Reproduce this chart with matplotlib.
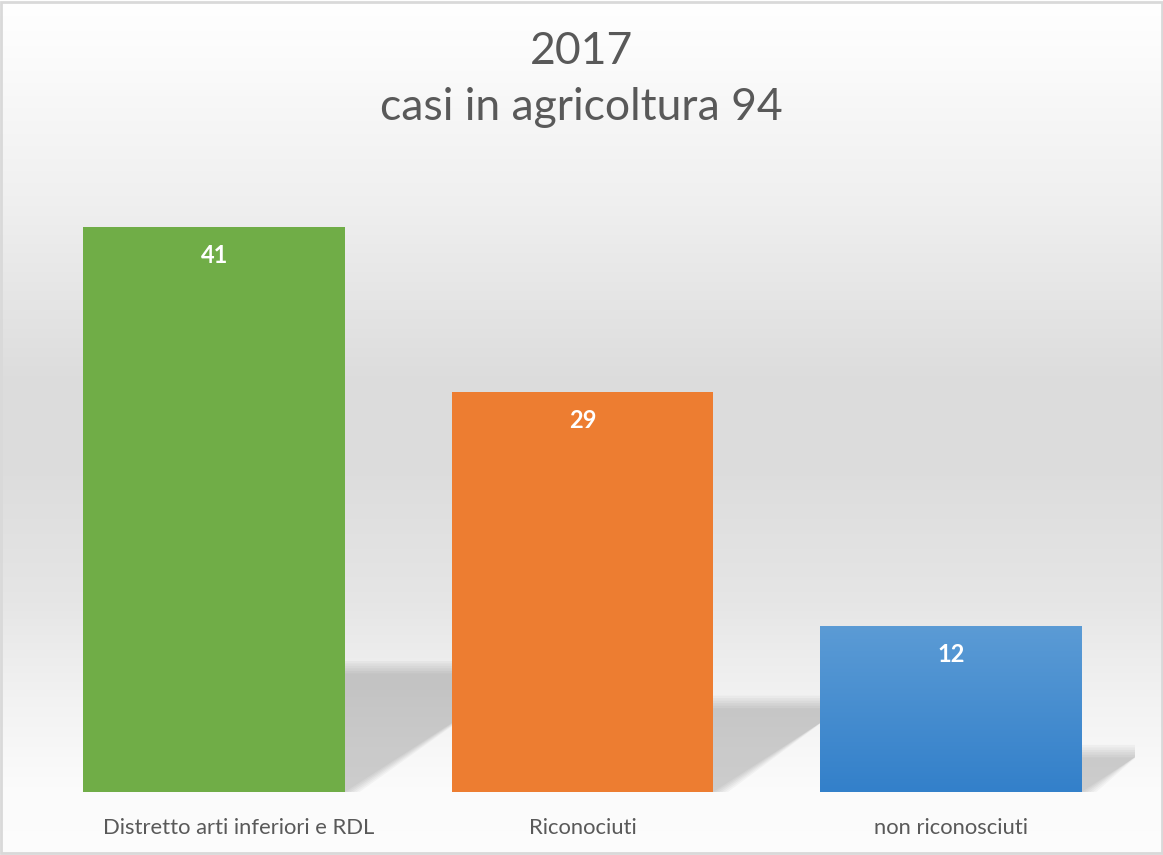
import matplotlib.pyplot as plt
import matplotlib.transforms as mtransforms
import numpy as np
from matplotlib.patches import Polygon, Rectangle

categorie = ['Distretto arti inferiori e RDL', 'Riconociuti', 'non riconosciuti']
casi = [41, 29, 12]
titolo = ['2017', 'casi in agricoltura 94']

plt.rcParams['font.family'] = ['Lato', 'DejaVu Sans']

fig = plt.figure(figsize=(11.63, 8.55), dpi=100)

# sfondo con sfumatura grigia (riga 0 = alto)
bg = fig.add_axes([0, 0, 1, 1], zorder=0)
yy = np.linspace(0, 855, 400)
livello = np.interp(yy, [0, 40, 200, 380, 470, 600, 700, 790, 855],
                    [1.0, 0.99, 0.94, 0.865, 0.865, 0.90, 0.95, 0.985, 0.99])
img = np.repeat(livello[:, None, None], 2, axis=1).repeat(3, axis=2)
bg.imshow(img, aspect='auto', extent=[0, 1, 0, 1], origin='upper')
bg.add_patch(Rectangle((0.001, 0.002), 0.998, 0.996, fill=False, ec='#d9d9d9', lw=2))
bg.set_xlim(0, 1)
bg.set_ylim(0, 1)
bg.axis('off')

ax = fig.add_axes([30 / 1163, 63 / 855, 1105 / 1163, 620 / 855], zorder=1)
ax.patch.set_alpha(0)
x = np.arange(len(casi))
larghezza = 0.71

# ombre prospettiche
for xi, v in zip(x, casi):
    h = 0.21 * v
    s = 0.058 * h
    xl, xr = xi - larghezza / 2, xi + larghezza / 2
    for k in range(6):
        d = k * 0.18
        poly = Polygon([(xl, 0), (xr + 0.008 * k, 0), (xr + s + 0.008 * k, h + d), (xl + s, h + d)],
                       closed=True, fc='black', ec='none', alpha=0.03, zorder=1)
        ax.add_patch(poly)

colori = ['#70AD47', '#ED7D31', None]
for xi, v, c in zip(x, casi, colori):
    if c is not None:
        ax.bar(xi, v, width=larghezza, color=c, zorder=3)
    else:
        grad = np.linspace(0, 1, 100)[:, None]
        top = np.array([0x5B, 0x9B, 0xD5]) / 255
        bot = np.array([0x33, 0x80, 0xCA]) / 255
        g = bot + (top - bot) * grad[:, :, None]
        g = g.repeat(2, axis=1)
        ax.imshow(g, aspect='auto', origin='lower', zorder=3,
                  extent=[xi - larghezza / 2, xi + larghezza / 2, 0, v])
    ax.text(xi, v - 2.05, str(v), ha='center', va='center', color='white',
            fontsize=17, fontweight='bold', zorder=4)

ax.set_xlim(-0.5, 2.5)
ax.set_ylim(0, 620 / 13.78)
ax.set_xticks(x)
ax.set_xticklabels(categorie, fontsize=15.8, color='#595959')
ax.tick_params(axis='x', length=0, pad=19)
ax.set_yticks([])
for sp in ax.spines.values():
    sp.set_visible(False)

# la prima etichetta nell'originale e' spostata a destra
lab0 = ax.get_xticklabels()[0]
lab0.set_transform(lab0.get_transform() + mtransforms.ScaledTranslation(0.24, 0, fig.dpi_scale_trans))

fig.text(0.5, 1 - 52 / 855, titolo[0], ha='center', va='center', fontsize=32, color='#595959')
fig.text(0.5, 1 - 108 / 855, titolo[1], ha='center', va='center', fontsize=32, color='#595959')

fig.savefig('out.png', dpi=100)
